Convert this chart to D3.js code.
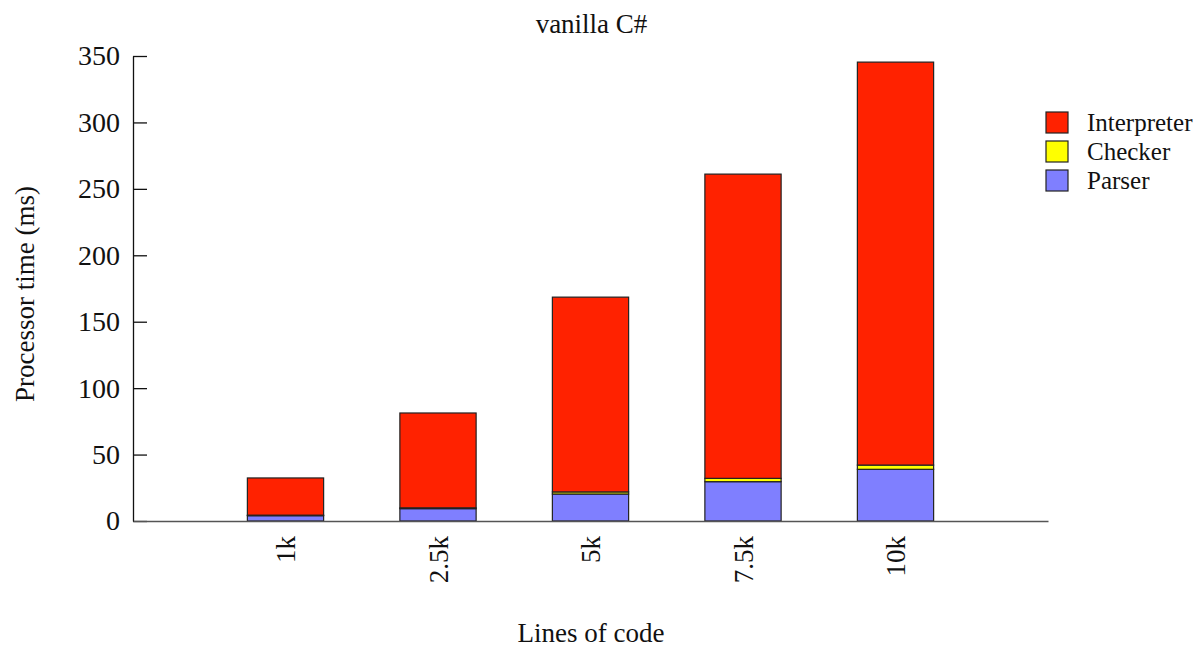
<!DOCTYPE html>
<html>
<head>
<meta charset="utf-8">
<script src="https://cdn.jsdelivr.net/npm/d3@7"></script>
<style>
  html, body { margin: 0; padding: 0; background: #fff; overflow: hidden; }
  svg { display: block; }
  text { font-family: "Liberation Serif", "Times New Roman", serif; fill: #111; }
</style>
</head>
<body>
<div id="chart"></div>
<script>
// Data (ms)
const categories = ["1k", "2.5k", "5k", "7.5k", "10k"];
const parser = [4.0, 9.3, 20.3, 29.6, 38.9];
const checker = [0.4, 0.6, 1.6, 2.5, 3.2];
const interpreter = [28.0, 71.4, 146.6, 229.0, 303.3];
const yTicks = [0, 50, 100, 150, 200, 250, 300, 350];

const width = 1198;
const height = 647;
const margin = { top: 56, right: 150, bottom: 126, left: 133 };
const innerWidth = width - margin.left - margin.right;
const innerHeight = height - margin.top - margin.bottom;

const colors = { interpreter: "#ff2200", checker: "#ffff00", parser: "#7f7fff" };

const rows = categories.map((c, i) => ({
    cat: c, idx: i + 1,
    parser: parser[i], checker: checker[i], interpreter: interpreter[i]
}));

const svg = d3.select("#chart").append("svg")
    .attr("width", width)
    .attr("height", height);

const gRoot = svg.append("g")
    .attr("transform", `translate(${margin.left}, ${margin.top})`);

// categories sit at 1..5 on a 0..6 axis
const xScale = d3.scaleLinear().domain([0, 6]).range([0, innerWidth]);
const yScale = d3.scaleLinear().domain([0, 350]).range([innerHeight, 0]);
const barW = xScale(0.5) - xScale(0);

const stack = d3.stack().keys(["parser", "checker", "interpreter"]);
const series = stack(rows);

gRoot.append("g").selectAll("g")
    .data(series)
    .join("g")
    .attr("fill", d => colors[d.key])
    .selectAll("rect")
    .data(d => d)
    .join("rect")
    .attr("x", d => xScale(d.data.idx) - barW / 2)
    .attr("y", d => yScale(d[1]))
    .attr("width", barW)
    .attr("height", d => yScale(d[0]) - yScale(d[1]))
    .attr("stroke", "#222")
    .attr("stroke-width", 1.2);

// Y axis, ticks pointing inward
const gY = gRoot.append("g")
    .call(d3.axisLeft(yScale).tickValues(yTicks).tickSize(-14).tickPadding(13).tickSizeOuter(0));
gY.select(".domain").attr("stroke", "#111").attr("stroke-width", 1.3);
gY.selectAll(".tick line").attr("stroke", "#111").attr("stroke-width", 1.3);
gY.selectAll(".tick text")
    .attr("font-size", 28)
    .attr("font-family", "Liberation Serif, serif")
    .attr("fill", "#111");

// X axis with rotated labels
const gX = gRoot.append("g")
    .attr("transform", `translate(0, ${innerHeight})`)
    .call(d3.axisBottom(xScale).tickValues(rows.map(d => d.idx))
        .tickFormat((d, i) => categories[i]).tickSize(0).tickSizeOuter(0));
gX.select(".domain").attr("stroke", "#555").attr("stroke-width", 1.6);
gX.selectAll(".tick text")
    .attr("font-size", 27)
    .attr("font-family", "Liberation Serif, serif")
    .attr("fill", "#111")
    .attr("text-anchor", "end")
    .attr("transform", "rotate(-90)")
    .attr("x", -15)
    .attr("y", 0)
    .attr("dy", "0.35em");

// Title and axis labels
svg.append("text")
    .attr("x", margin.left + innerWidth / 2 + 1)
    .attr("y", 33)
    .attr("text-anchor", "middle")
    .attr("font-size", 27)
    .text("vanilla C#");

svg.append("text")
    .attr("transform", `translate(34, 294) rotate(-90)`)
    .attr("text-anchor", "middle")
    .attr("font-size", 27)
    .text("Processor time (ms)");

svg.append("text")
    .attr("x", 591)
    .attr("y", 642)
    .attr("text-anchor", "middle")
    .attr("font-size", 27)
    .text("Lines of code");

// Legend
const legendItems = [
    { key: "interpreter", label: "Interpreter" },
    { key: "checker", label: "Checker" },
    { key: "parser", label: "Parser" }
];
const legend = svg.append("g").attr("transform", "translate(1046, 112)");
const li = legend.selectAll("g")
    .data(legendItems)
    .join("g")
    .attr("transform", (d, i) => `translate(0, ${i * 29})`);
li.append("rect")
    .attr("width", 22)
    .attr("height", 21)
    .attr("fill", d => colors[d.key])
    .attr("stroke", "#222")
    .attr("stroke-width", 1.2);
li.append("text")
    .attr("x", 41)
    .attr("y", 19)
    .attr("font-size", 25)
    .text(d => d.label);
</script>
</body>
</html>
